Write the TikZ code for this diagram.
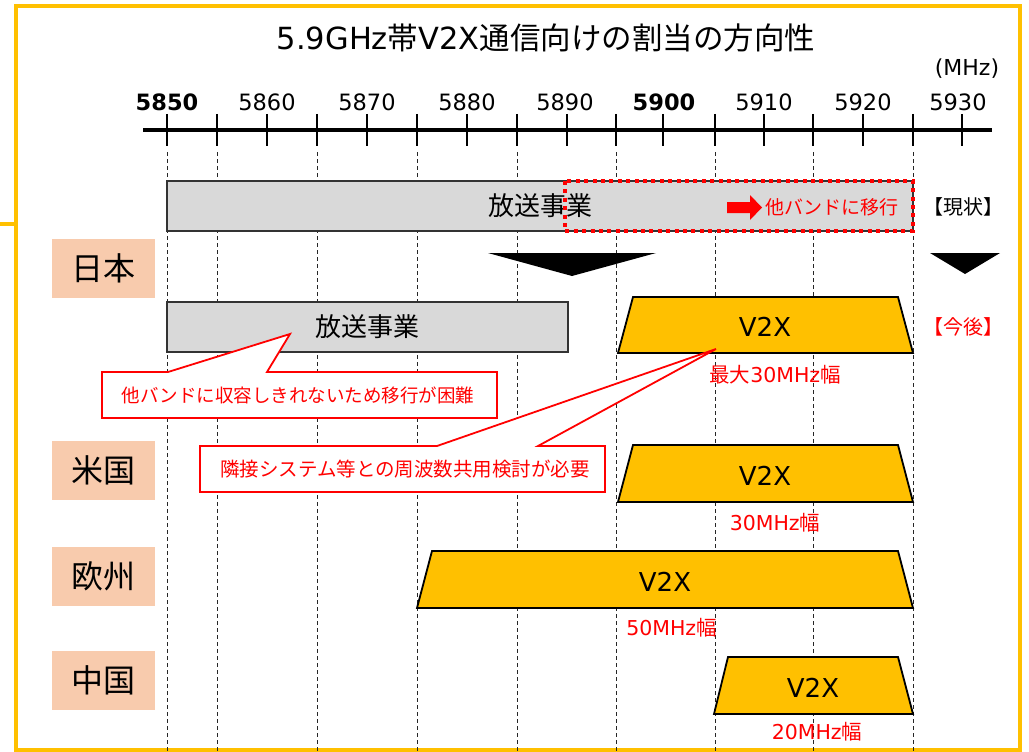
\documentclass[tikz,border=0pt]{standalone}
\usepackage{fontspec}
\setmainfont{DejaVu Sans}
\newfontfamily\jp{Noto Sans CJK JP}
\newcommand\fsz[1]{\fontsize{#1}{#1}\selectfont}
\definecolor{vxcol}{HTML}{FFC000}
\definecolor{peach}{HTML}{F8CBAD}
\definecolor{barg}{HTML}{D9D9D9}
\definecolor{framecol}{HTML}{FFC000}
\begin{document}
\begin{tikzpicture}[x=1pt,y=-1pt,
  lab/.style={inner sep=0pt, font=\fsz{22.5}},
  barbox/.style={draw=black!80, fill=barg, line width=1.2pt, inner sep=0pt, font=\jp\fsz{26}},
  cty/.style={fill=peach, minimum width=103pt, minimum height=59pt, inner sep=0pt, font=\jp\fsz{32}},
  vx/.style={draw=black, fill=vxcol, line width=1.8pt, line join=miter},
  vxt/.style={font=\fsz{26}, inner sep=0pt},
  rednote/.style={text=red, inner sep=0pt, font=\fsz{20.5}},
  callout/.style={draw=red, fill=white, line width=1.8pt, line join=miter},
  gridline/.style={draw=black!85, line width=1pt, dash pattern=on 4pt off 3pt},
]
\useasboundingbox (0,0) rectangle (1029,752);
% frame
\draw[framecol, line width=4pt] (16,6) rectangle (1020,750);
\draw[framecol, line width=4pt] (0,224) -- (16,224);
% title
\node[font=\fsz{30.5}, inner sep=0pt] (title) at (546,38) {5.9GHz{\jp 帯}V2X{\jp 通信向けの割当の方向性}};
% axis
\coordinate (axL) at (143,130);
\coordinate (axR) at (992,130);
\draw[line width=4pt] (axL) -- (axR);
\foreach \x in {167,217,267,317,367,417,467,517,567,616,663,715,764,813,863,913,962}
  \draw[line width=1.7pt] (\x,114) -- (\x,146);
\foreach \x in {167,217,317,417,517,616,715,813,913}
  \draw[gridline] (\x,152) -- (\x,752);
% tick labels
\node[lab, font=\bfseries\fsz{22.5}] (t5850) at (167,102) {5850};
\foreach \f/\x in {5860/267,5870/367,5880/467,5890/565,5910/764,5920/863,5930/958}
  \node[lab] (t\f) at (\x,102) {\f};
\node[lab, font=\bfseries\fsz{22.5}] (t5900) at (664,102) {5900};
\node[lab, font=\fsz{22}] (unit) at (967,69) {(MHz)};
% Japan current
\node[barbox, minimum width=746pt, minimum height=50pt] (cur) at (540,206) {放送事業};
\draw[red, line width=4pt, dash pattern=on 4pt off 4.4pt] (565,181) rectangle (913,231);
\fill[red] (727,202) -- (750,202) -- (750,195) -- (762,207.5) -- (750,220) -- (750,213) -- (727,213) -- cycle;
\node[rednote, font=\jp\fsz{19}] (mv) at (832,207) {他バンドに移行};
\node[inner sep=0pt, font=\jp\fsz{20}] (now) at (963,207) {【現状】};
% down triangles
\fill (488,253) -- (656,253) -- (572,276) -- cycle;
\fill (930,253) -- (1000,253) -- (965,274) -- cycle;
% country labels
\node[cty] (jp) at (103.5,268.5) {日本};
\node[cty] (us) at (103.5,470.5) {米国};
\node[cty] (eu) at (103.5,576.5) {欧州};
\node[cty] (cn) at (103.5,680.5) {中国};
% Japan future
\node[barbox, minimum width=401pt, minimum height=50pt] (fut) at (367.5,327) {放送事業};
\draw[vx] (618,353) -- (633,297) -- (898,297) -- (913,353) -- cycle;
\node[vxt] (v1) at (765,327) {V2X};
\node[rednote] (w1) at (775,375) {{\jp 最大}30MHz{\jp 幅}};
\node[rednote, font=\jp\fsz{20}] (later) at (963,327) {【今後】};
% US
\draw[vx] (618,502) -- (633,445) -- (898,445) -- (913,502) -- cycle;
\node[vxt] (v2) at (765,476) {V2X};
\node[rednote] (w2) at (775,523) {30MHz{\jp 幅}};
% Europe
\draw[vx] (417,608) -- (432,551) -- (898,551) -- (913,608) -- cycle;
\node[vxt] (v3) at (665,582) {V2X};
\node[rednote] (w3) at (671.5,628) {50MHz{\jp 幅}};
% China
\draw[vx] (714,714) -- (728,657) -- (898,657) -- (913,714) -- cycle;
\node[vxt] (v4) at (813,688) {V2X};
\node[rednote] (w4) at (817,732) {20MHz{\jp 幅}};
% callouts
\coordinate (tip1) at (290,334);
\coordinate (tip2) at (716,349);
\draw[callout] (102,372) -- (168,372) -- (tip1) -- (267,372) -- (497,372) -- (497,418) -- (102,418) -- cycle;
\node[rednote, font=\jp\fsz{18.5}] (c1) at (298,395) {他バンドに収容しきれないため移行が困難};
\draw[callout] (200,446) -- (437,446) -- (tip2) -- (538,446) -- (605,446) -- (605,492) -- (200,492) -- cycle;
\node[rednote, font=\jp\fsz{19.5}] (c2) at (405,469) {隣接システム等との周波数共用検討が必要};
\end{tikzpicture}
\end{document}
